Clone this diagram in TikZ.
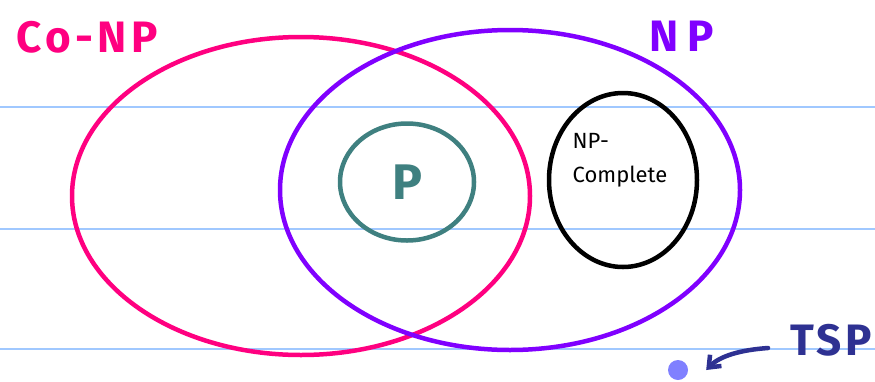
\documentclass[tikz,border=0pt]{standalone}
\usepackage{fontspec}
\setmainfont{Fira Sans}
\usetikzlibrary{arrows.meta,shapes.geometric}
\definecolor{conp}{RGB}{255,0,128}
\definecolor{npc}{RGB}{128,0,255}
\definecolor{pcol}{RGB}{63,128,128}
\definecolor{rule}{RGB}{160,200,255}
\definecolor{tspc}{RGB}{46,49,146}
\definecolor{dotc}{RGB}{128,128,255}
\tikzset{
  setline/.style={line width=4.5pt},
  ruleline/.style={draw=rule, line width=1.5pt},
  lbl/.style={inner sep=0pt, font=\fontsize{44}{48}\selectfont\bfseries}
}
\begin{document}
\begin{tikzpicture}[x=1pt,y=-1pt]
\useasboundingbox[fill=white] (0,0) rectangle (875,381);
% ruled lines
\foreach \yy in {107,229,349} \draw[ruleline] (0,\yy) -- (875,\yy);
% sets
\draw[setline, draw=conp] (301,196) ellipse [x radius=229, y radius=159];
\draw[setline, draw=npc] (510,190) ellipse [x radius=230, y radius=160];
\node[setline, draw=pcol, ellipse, minimum width=134, minimum height=117, inner sep=0pt,
  text=pcol, font=\fontsize{50}{54}\selectfont\bfseries] (p) at (407,182) {P};
\draw[setline, draw=black] (623,180) ellipse [x radius=74, y radius=87];
\node[inner sep=0pt, align=left, font=\fontsize{22}{34}\selectfont] (npc) at (620,160) {NP-\\Complete};
% labels
\node[lbl, text=conp] (conplbl) at (87,37) {\addfontfeatures{LetterSpace=10}Co-NP};
\node[lbl, text=npc] (nplbl) at (682,36) {\addfontfeatures{LetterSpace=20}NP};
\node[lbl, text=tspc] (tsp) at (831,340) {\addfontfeatures{LetterSpace=8}TSP};
\node[circle, fill=dotc, minimum size=20, inner sep=0pt] (dot) at (678,370) {};
\coordinate (astart) at (768,348);
\draw[line width=4.5pt, draw=tspc, line cap=round, -{Straight Barb[length=10pt,width=16pt]}]
  (astart) .. controls (740,350) and (720,356) .. ([xshift=18pt]dot.east);
\end{tikzpicture}
\end{document}
